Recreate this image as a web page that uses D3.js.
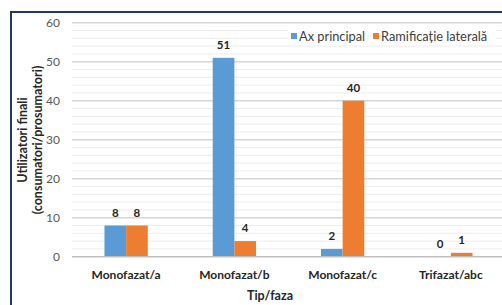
<!DOCTYPE html>
<html lang="ro">
<head>
  <meta charset="UTF-8">
  <title>Utilizatori finali pe faza</title>
  <script src="https://d3js.org/d3.v7.min.js"></script>
  <style>
    html, body { margin: 0; padding: 0; background: #fff; overflow: hidden; }
    text { font-family: Lato, "Open Sans", sans-serif; }
  </style>
</head>
<body>
  <div id="chart"></div>

  <script>
    const categories = ["Monofazat/a", "Monofazat/b", "Monofazat/c", "Trifazat/abc"];
    const seriesNames = ["Ax principal", "Ramificație laterală"];
    const axPrincipal = [8, 51, 2, 0];
    const ramificatie = [8, 4, 40, 1];
    const yTicks = [0, 10, 20, 30, 40, 50, 60];
    const colors = ["#5b9bd5", "#ed7d31"];

    const width = 502, height = 305;
    const plot = { left: 72, right: 505, top: 22.7, bottom: 256.7 };

    const svg = d3.select("#chart").append("svg")
      .attr("width", width)
      .attr("height", height);

    // frame
    svg.append("rect")
      .attr("x", 11).attr("y", 12)
      .attr("width", 600).attr("height", 400)
      .attr("fill", "none")
      .attr("stroke", "#1f3864")
      .attr("stroke-width", 2);

    const x = d3.scaleBand()
      .domain(categories)
      .range([plot.left, plot.right])
      .paddingInner(0.6)
      .paddingOuter(0.3);

    const xSub = d3.scaleBand()
      .domain(seriesNames)
      .range([0, x.bandwidth()]);

    const y = d3.scaleLinear()
      .domain([0, 60])
      .range([plot.bottom, plot.top]);

    // minor gridlines every 2
    svg.append("g")
      .selectAll("line")
      .data(d3.range(2, 60, 2).filter(v => v % 10 !== 0))
      .join("line")
      .attr("x1", plot.left).attr("x2", plot.right)
      .attr("y1", d => y(d)).attr("y2", d => y(d))
      .attr("stroke", "#ededed")
      .attr("stroke-width", 1);

    // major gridlines
    svg.append("g")
      .selectAll("line")
      .data(yTicks.filter(v => v > 0))
      .join("line")
      .attr("x1", plot.left).attr("x2", plot.right)
      .attr("y1", d => y(d)).attr("y2", d => y(d))
      .attr("stroke", "#d6d6d6")
      .attr("stroke-width", 1.5);

    // y axis labels
    const yAxis = svg.append("g")
      .attr("transform", `translate(${plot.left - 4},0)`)
      .call(d3.axisLeft(y).tickValues(yTicks).tickSize(0).tickPadding(8));
    yAxis.select(".domain").remove();
    yAxis.selectAll("text")
      .attr("font-family", "Lato, sans-serif")
      .attr("font-size", 12)
      .attr("fill", "#595959");

    // legend (white box hides gridlines)
    const legend = svg.append("g").attr("transform", "translate(288,28)");
    legend.append("rect")
      .attr("x", 0).attr("y", 0)
      .attr("width", 208).attr("height", 16)
      .attr("fill", "#fff");
    const legendX = [3, 85];
    seriesNames.forEach((name, i) => {
      legend.append("rect")
        .attr("x", legendX[i]).attr("y", 5)
        .attr("width", 6).attr("height", 6)
        .attr("fill", colors[i]);
      legend.append("text")
        .attr("x", legendX[i] + 8).attr("y", 12.5)
        .attr("font-size", 12.8)
        .attr("fill", "#404040")
        .text(name);
    });

    // bars
    const rows = categories.map((c, i) => ({
      cat: c,
      values: [axPrincipal[i], ramificatie[i]]
    }));

    const groups = svg.append("g")
      .selectAll("g")
      .data(rows)
      .join("g")
      .attr("transform", d => `translate(${x(d.cat)},0)`);

    groups.selectAll("rect")
      .data(d => d.values.map((v, i) => ({ name: seriesNames[i], value: v, i })))
      .join("rect")
      .attr("x", d => xSub(d.name))
      .attr("y", d => y(d.value))
      .attr("width", xSub.bandwidth())
      .attr("height", d => y(0) - y(d.value))
      .attr("fill", d => colors[d.i]);

    groups.selectAll("text")
      .data(d => d.values.map((v, i) => ({ name: seriesNames[i], value: v })))
      .join("text")
      .attr("x", d => xSub(d.name) + xSub.bandwidth() / 2)
      .attr("y", d => y(d.value) - 9)
      .attr("text-anchor", "middle")
      .attr("font-size", 11.5)
      .attr("font-weight", 700)
      .attr("fill", "#262626")
      .text(d => d.value);

    // x baseline
    svg.append("line")
      .attr("x1", plot.left).attr("x2", plot.right)
      .attr("y1", y(0)).attr("y2", y(0))
      .attr("stroke", "#bfbfbf")
      .attr("stroke-width", 1.5);

    // category labels
    svg.append("g")
      .selectAll("text")
      .data(categories)
      .join("text")
      .attr("x", d => x(d) + x.bandwidth() / 2)
      .attr("y", 279)
      .attr("text-anchor", "middle")
      .attr("font-size", 12)
      .attr("font-weight", 700)
      .attr("fill", "#262626")
      .text(d => d);

    // axis titles
    svg.append("text")
      .attr("x", 270).attr("y", 300)
      .attr("text-anchor", "middle")
      .attr("font-size", 12.5)
      .attr("font-weight", 700)
      .attr("fill", "#262626")
      .text("Tip/faza");

    const yTitle = svg.append("text")
      .attr("transform", "translate(27,140) rotate(-90)")
      .attr("text-anchor", "middle")
      .attr("font-size", 12.5)
      .attr("font-weight", 700)
      .attr("fill", "#262626");
    yTitle.append("tspan").attr("x", 0).attr("dy", 0).text("Utilizatori finali");
    yTitle.append("tspan").attr("x", 0).attr("dy", 15).text("(consumatori/prosumatori)");
  </script>
</body>
</html>
